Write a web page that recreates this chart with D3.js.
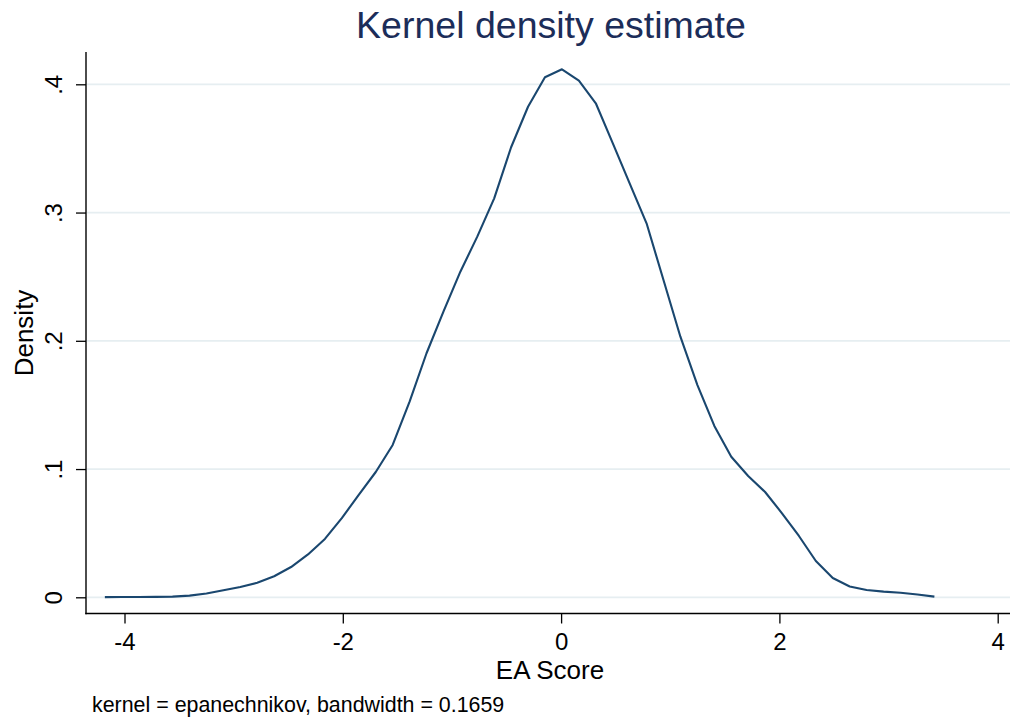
<!DOCTYPE html>
<html>
<head>
<meta charset="utf-8">
<script src="https://cdn.jsdelivr.net/npm/d3@7"></script>
<style>
  html, body { margin: 0; padding: 0; background: #fff; }
  svg { display: block; }
  text { font-family: "Liberation Sans", Arial, Helvetica, sans-serif; }
</style>
</head>
<body>
<svg id="chart" width="1010" height="723"></svg>
<script>
// ---- data ----
const eaScore = [-4.180, -4.025, -3.870, -3.715, -3.560, -3.404, -3.249, -3.094, -2.939, -2.784,
                 -2.629, -2.474, -2.319, -2.164, -2.009, -1.854, -1.698, -1.543, -1.388, -1.233,
                 -1.078, -0.923, -0.768, -0.613, -0.458, -0.303, -0.148, 0.008, 0.163, 0.318,
                 0.473, 0.628, 0.783, 0.938, 1.093, 1.249, 1.404, 1.559, 1.714, 1.869,
                 2.024, 2.179, 2.334, 2.489, 2.644, 2.799, 2.955, 3.110, 3.265, 3.420];
const density = [0.0001, 0.0002, 0.0002, 0.0003, 0.0005, 0.0013, 0.0030, 0.0055, 0.0080, 0.0113,
                 0.0164, 0.0236, 0.0334, 0.0455, 0.0618, 0.0798, 0.0977, 0.1188, 0.1525, 0.1903,
                 0.2227, 0.2539, 0.2812, 0.3111, 0.3509, 0.3825, 0.4055, 0.4117, 0.4028, 0.3852,
                 0.3542, 0.3228, 0.2916, 0.2474, 0.2032, 0.1655, 0.1336, 0.1096, 0.0946, 0.0821,
                 0.0655, 0.0478, 0.0283, 0.0150, 0.0084, 0.0057, 0.0044, 0.0035, 0.0022, 0.0005];
const xTicks = [-4, -2, 0, 2, 4];
const xTickLabels = ["-4", "-2", "0", "2", "4"];
const yTicks = [0, 0.1, 0.2, 0.3, 0.4];
const yTickLabels = ["0", ".1", ".2", ".3", ".4"];
const titleText = "Kernel density estimate";
const xTitle = "EA Score";
const yTitle = "Density";
const noteText = "kernel = epanechnikov, bandwidth = 0.1659";

// ---- layout ----
const svg = d3.select("#chart");
const plot = { left: 86, right: 1010, top: 52, bottom: 613.5 };
const x = d3.scaleLinear().domain([-4, 4]).range([124.5, 997.7]);
const y = d3.scaleLinear().domain([0, 0.4]).range([597.3, 84.3]);

const lineColor = "#1a476f";
const gridColor = "#e6eef1";

// grid lines
svg.append("g").selectAll("line").data(yTicks).join("line")
  .attr("x1", plot.left + 1).attr("x2", plot.right)
  .attr("y1", d => y(d)).attr("y2", d => y(d))
  .attr("stroke", gridColor).attr("stroke-width", 1.7);

// curve
const pts = eaScore.map((v, i) => [v, density[i]]);
svg.append("path")
  .datum(pts)
  .attr("fill", "none")
  .attr("stroke", lineColor)
  .attr("stroke-width", 2.1)
  .attr("stroke-linejoin", "round")
  .attr("d", d3.line().x(d => x(d[0])).y(d => y(d[1])));

// axes lines
svg.append("line")
  .attr("x1", plot.left).attr("x2", plot.left)
  .attr("y1", plot.top).attr("y2", plot.bottom + 0.7)
  .attr("stroke", "#000").attr("stroke-width", 1.4);
svg.append("line")
  .attr("x1", plot.left - 0.7).attr("x2", plot.right)
  .attr("y1", plot.bottom).attr("y2", plot.bottom)
  .attr("stroke", "#000").attr("stroke-width", 1.4);

// x axis ticks via d3 axis
const xAxis = d3.axisBottom(x)
  .tickValues(xTicks)
  .tickSize(10)
  .tickPadding(4)
  .tickFormat((d, i) => xTickLabels[i]);
const gx = svg.append("g")
  .attr("transform", `translate(0,${plot.bottom})`)
  .call(xAxis);
gx.select(".domain").remove();
gx.selectAll(".tick line").attr("stroke", "#000").attr("stroke-width", 1.3);
gx.selectAll(".tick text")
  .attr("font-size", 24)
  .attr("fill", "#000")
  .attr("dy", null)
  .attr("y", 36)
  .style("font-family", "'Liberation Sans', Arial, sans-serif");

// y axis ticks via d3 axis
const yAxis = d3.axisLeft(y)
  .tickValues(yTicks)
  .tickSize(10)
  .tickFormat((d, i) => yTickLabels[i]);
const gy = svg.append("g")
  .attr("transform", `translate(${plot.left},0)`)
  .call(yAxis);
gy.select(".domain").remove();
gy.selectAll(".tick line").attr("stroke", "#000").attr("stroke-width", 1.3);
gy.selectAll(".tick text")
  .attr("font-size", 24)
  .attr("fill", "#000")
  .attr("x", null).attr("dy", null)
  .attr("text-anchor", "middle")
  .attr("transform", "translate(-24,0) rotate(-90)")
  .style("font-family", "'Liberation Sans', Arial, sans-serif");

// title
svg.append("text")
  .attr("x", 551).attr("y", 38)
  .attr("text-anchor", "middle")
  .attr("font-size", 37.5)
  .attr("fill", "#1c2d59")
  .text(titleText);

// x title
svg.append("text")
  .attr("x", 550).attr("y", 679)
  .attr("text-anchor", "middle")
  .attr("font-size", 26)
  .attr("fill", "#000")
  .text(xTitle);

// y title
svg.append("text")
  .attr("transform", "translate(33,333) rotate(-90)")
  .attr("text-anchor", "middle")
  .attr("font-size", 26)
  .attr("fill", "#000")
  .text(yTitle);

// note
svg.append("text")
  .attr("x", 92).attr("y", 712)
  .attr("font-size", 21.4)
  .attr("fill", "#000")
  .text(noteText);
</script>
</body>
</html>
